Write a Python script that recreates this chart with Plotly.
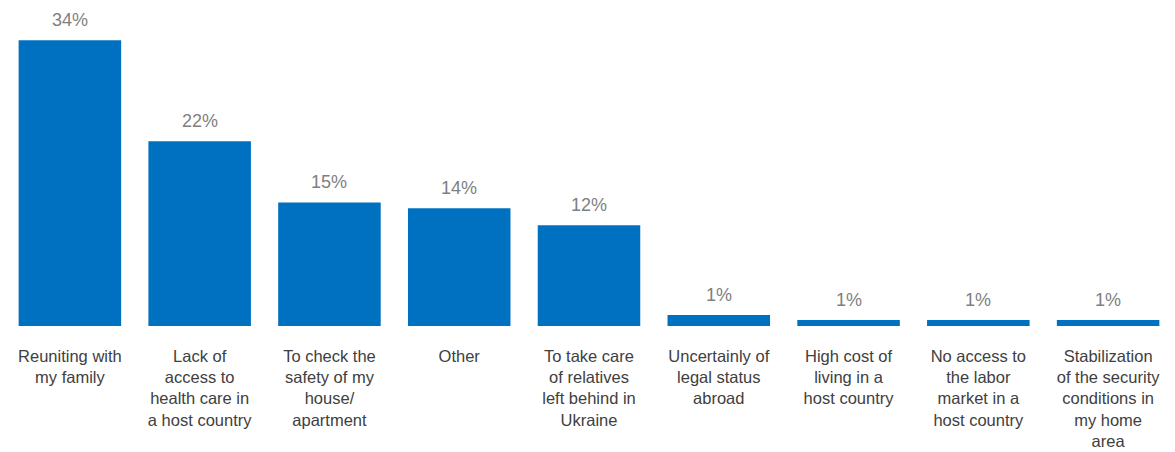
import plotly.graph_objects as go

categories = [
    "Reuniting with<br>my family",
    "Lack of<br>access to<br>health care in<br>a host country",
    "To check the<br>safety of my<br>house/<br>apartment",
    "Other",
    "To take care<br>of relatives<br>left behind in<br>Ukraine",
    "Uncertainly of<br>legal status<br>abroad",
    "High cost of<br>living in a<br>host country",
    "No access to<br>the labor<br>market in a<br>host country",
    "Stabilization<br>of the security<br>conditions in<br>my home<br>area",
]
values = [34, 22, 14.7, 14, 12, 1.3, 0.7, 0.7, 0.7]
value_labels = ["34%", "22%", "15%", "14%", "12%", "1%", "1%", "1%", "1%"]

FONT = "Liberation Sans, Arial, sans-serif"

fig = go.Figure()
fig.add_trace(go.Bar(
    x=categories,
    y=values,
    marker=dict(color="#0070C0", line=dict(width=0)),
    hoverinfo="skip",
))

for c, v, t in zip(categories, values, value_labels):
    fig.add_annotation(
        x=c, y=v, text=t, showarrow=False,
        yanchor="bottom", yshift=8,
        font=dict(family=FONT, size=18, color="#7F7F7F"),
    )

fig.update_layout(
    width=1175, height=452,
    margin=dict(l=5, r=2, t=0, b=126),
    paper_bgcolor="white",
    plot_bgcolor="white",
    bargap=0.21,
    showlegend=False,
    font=dict(family=FONT, size=16, color="#404040"),
)
fig.update_xaxes(
    showgrid=False, showline=False, zeroline=False, ticks="",
    tickangle=0, ticklabelstandoff=18, automargin=False,
    tickfont=dict(family=FONT, size=16.5, color="#404040"),
)
fig.update_yaxes(
    range=[0, 38.8], visible=False, showgrid=False, zeroline=False,
    automargin=False,
)

fig.write_html(
    "out.html",
    config={"displayModeBar": False},
    post_script="document.body.style.margin='0';document.body.style.padding='0';",
)
